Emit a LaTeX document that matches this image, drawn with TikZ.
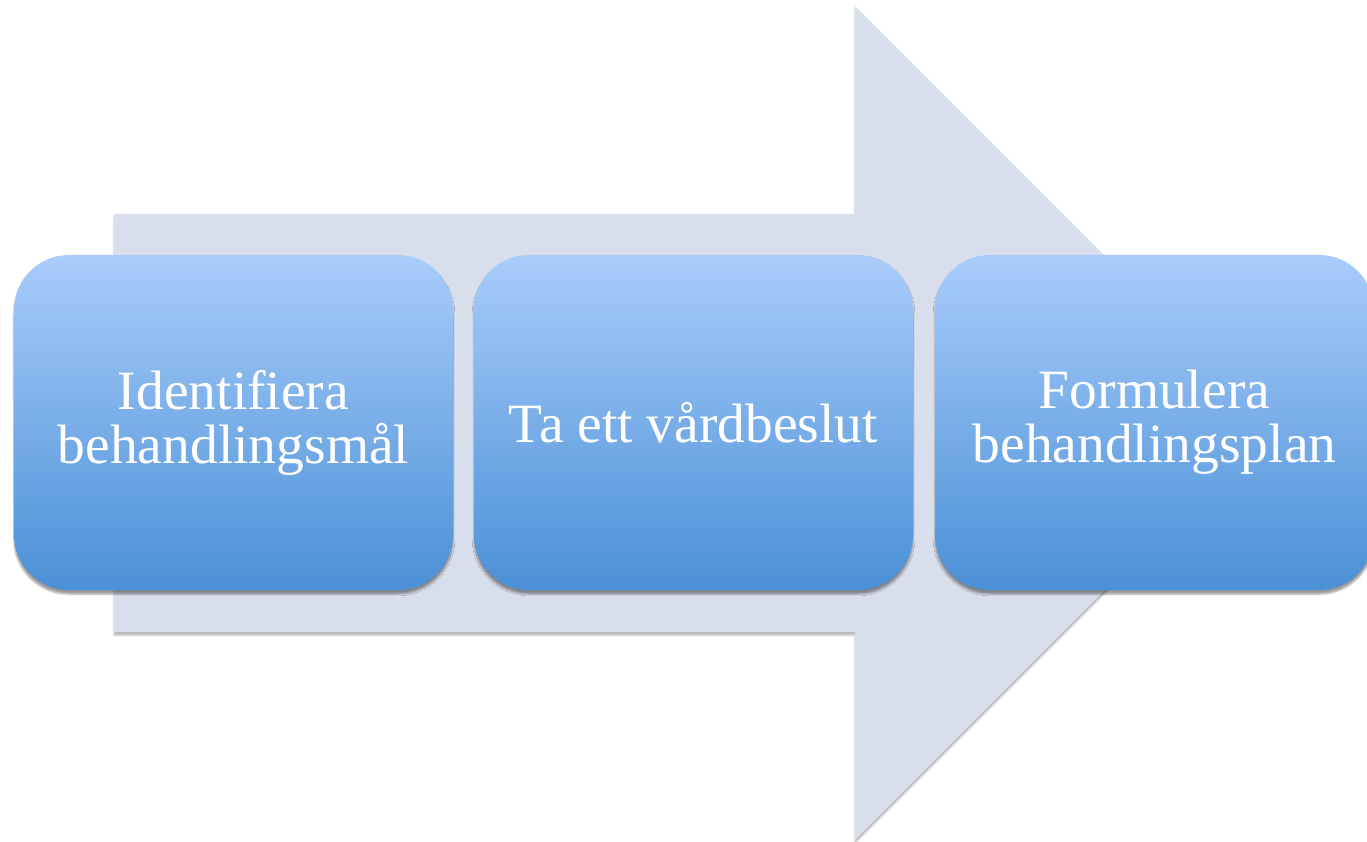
\documentclass[tikz,border=0pt]{standalone}
\usepackage{fontspec}
\setmainfont{Liberation Serif}
\usetikzlibrary{shadows,shadows.blur}
\definecolor{arrowfill}{RGB}{217,222,236}
\definecolor{boxtop}{RGB}{169,204,251}
\definecolor{boxbot}{RGB}{74,144,214}
\tikzset{
  stepbox/.style={rectangle, rounded corners=55pt, top color=boxtop, bottom color=boxbot,
    draw=none, minimum width=439pt, minimum height=335pt, inner sep=0pt,
    text=white, align=center, font=\fontsize{55.5}{54}\selectfont,
    blur shadow={shadow xshift=0pt, shadow yshift=-4pt, shadow opacity=40, shadow blur steps=6}},
  bigarrow/.style={fill=arrowfill, draw=none,
    blur shadow={shadow xshift=0pt, shadow yshift=-3pt, shadow opacity=30, shadow blur steps=5}}
}
\begin{document}
\begin{tikzpicture}[x=1pt,y=-1pt]
\useasboundingbox (0,0) rectangle (1367,842);
\path[bigarrow] (114,214) -- (855,214) -- (855,6) -- (1272,423) -- (855,840) -- (855,632) -- (114,632) -- cycle;
\node[stepbox] (b1) at (233.5,422.5) {Identifiera\\behandlingsmål};
\node[stepbox] (b2) at (693.5,422.5) {Ta ett vårdbeslut};
\node[stepbox] (b3) at (1154.5,422.5) {Formulera\\behandlingsplan};
\end{tikzpicture}
\end{document}
